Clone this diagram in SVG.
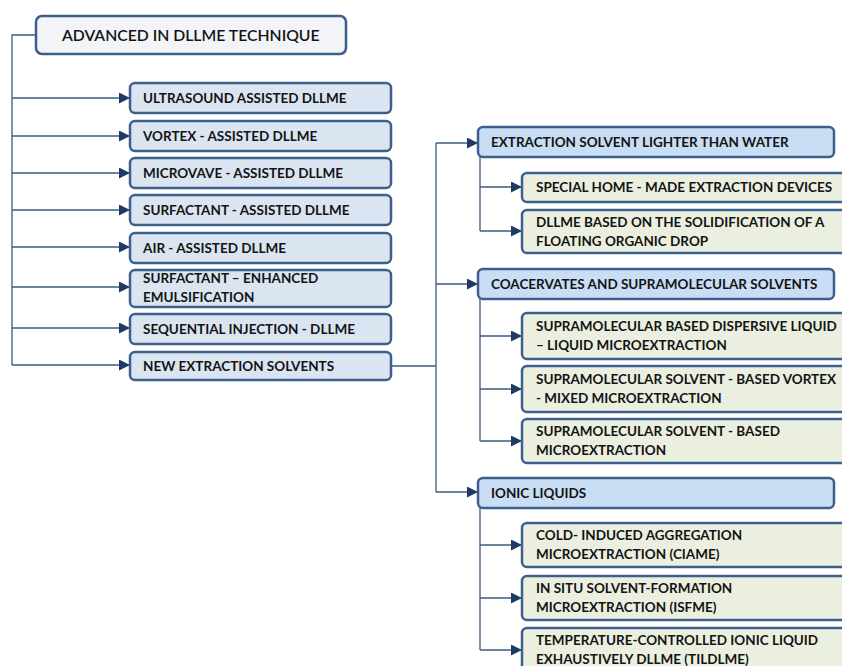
<svg xmlns="http://www.w3.org/2000/svg" width="842" height="666" viewBox="0 0 842 666">
<style>
.box{stroke:#3d5f8c;stroke-width:2.5}
.root{fill:#f2f4f8}
.l1{fill:#dbe5f1}
.l2{fill:#c9ddf4}
.l3{fill:#ebefe0}
text{font-family:Lato,"Open Sans","Liberation Sans",sans-serif;font-weight:bold;font-size:13.5px;fill:#141414}
.rt{font-size:15.75px;font-weight:600}
.c{fill:none;stroke:#3d5a80;stroke-width:1.3}
</style>
<defs>
<marker id="ah" markerWidth="11" markerHeight="11" refX="11" refY="5.5" orient="auto" markerUnits="userSpaceOnUse">
<path d="M0,0 L11,5.5 L0,11 z" fill="#1f3a64"/>
</marker>
</defs>
<rect width="842" height="666" fill="#ffffff"/>
<g id="connectors">
<path class="c" d="M36,35 H12 V365"/>
<path class="c" d="M12,98 H130" marker-end="url(#ah)"/>
<path class="c" d="M12,136 H130" marker-end="url(#ah)"/>
<path class="c" d="M12,173 H130" marker-end="url(#ah)"/>
<path class="c" d="M12,210 H130" marker-end="url(#ah)"/>
<path class="c" d="M12,247 H130" marker-end="url(#ah)"/>
<path class="c" d="M12,287 H130" marker-end="url(#ah)"/>
<path class="c" d="M12,328 H130" marker-end="url(#ah)"/>
<path class="c" d="M12,365 H130" marker-end="url(#ah)"/>
<path class="c" d="M391,366 H436 M436,143 V492"/>
<path class="c" d="M436,143 H478" marker-end="url(#ah)"/>
<path class="c" d="M436,284 H478" marker-end="url(#ah)"/>
<path class="c" d="M436,492 H478" marker-end="url(#ah)"/>
<path class="c" d="M480,157 V231"/>
<path class="c" d="M480,187 H522" marker-end="url(#ah)"/>
<path class="c" d="M480,231 H522" marker-end="url(#ah)"/>
<path class="c" d="M480,299 V441"/>
<path class="c" d="M480,336 H522" marker-end="url(#ah)"/>
<path class="c" d="M480,389 H522" marker-end="url(#ah)"/>
<path class="c" d="M480,441 H522" marker-end="url(#ah)"/>
<path class="c" d="M480,508 V650"/>
<path class="c" d="M480,545 H522" marker-end="url(#ah)"/>
<path class="c" d="M480,598 H522" marker-end="url(#ah)"/>
<path class="c" d="M480,650 H522" marker-end="url(#ah)"/>
</g>
<g id="root"><rect class="box root" x="36" y="16" width="310" height="38" rx="6"/><text class="rt" x="62" y="41">ADVANCED IN DLLME TECHNIQUE</text></g>
<g id="ultrasound"><rect class="box l1" x="130" y="83" width="261" height="30" rx="5"/><text x="143" y="103">ULTRASOUND ASSISTED DLLME</text></g>
<g id="vortex"><rect class="box l1" x="130" y="121" width="261" height="30" rx="5"/><text x="143" y="141">VORTEX - ASSISTED DLLME</text></g>
<g id="microvave"><rect class="box l1" x="130" y="158" width="261" height="30" rx="5"/><text x="143" y="178">MICROVAVE - ASSISTED DLLME</text></g>
<g id="surfactant-assisted"><rect class="box l1" x="130" y="195" width="261" height="30" rx="5"/><text x="143" y="215">SURFACTANT - ASSISTED DLLME</text></g>
<g id="air"><rect class="box l1" x="130" y="233" width="261" height="30" rx="5"/><text x="143" y="253">AIR - ASSISTED DLLME</text></g>
<g id="surfactant-enhanced"><rect class="box l1" x="130" y="270" width="261" height="37" rx="5"/><text x="143" y="283">SURFACTANT – ENHANCED</text><text x="143" y="302">EMULSIFICATION</text></g>
<g id="sequential"><rect class="box l1" x="130" y="314" width="261" height="30" rx="5"/><text x="143" y="334">SEQUENTIAL INJECTION - DLLME</text></g>
<g id="new-solvents"><rect class="box l1" x="130" y="352" width="261" height="28" rx="5"/><text x="143" y="371">NEW EXTRACTION SOLVENTS</text></g>
<g id="lighter"><rect class="box l2" x="478" y="127" width="356" height="30" rx="5"/><text x="491" y="147">EXTRACTION SOLVENT LIGHTER THAN WATER</text></g>
<g id="home-made"><rect class="box l3" x="522" y="173" width="330" height="29" rx="5"/><text x="536" y="192">SPECIAL HOME - MADE EXTRACTION DEVICES</text></g>
<g id="sfod"><rect class="box l3" x="522" y="210" width="330" height="43" rx="5"/><text x="536" y="227">DLLME BASED ON THE SOLIDIFICATION OF A</text><text x="536" y="246">FLOATING ORGANIC DROP</text></g>
<g id="coacervates"><rect class="box l2" x="478" y="269" width="356" height="30" rx="5"/><text x="491" y="289">COACERVATES AND SUPRAMOLECULAR SOLVENTS</text></g>
<g id="supra-dllme"><rect class="box l3" x="522" y="313" width="330" height="46" rx="5"/><text x="536" y="331">SUPRAMOLECULAR BASED DISPERSIVE LIQUID</text><text x="536" y="350">– LIQUID MICROEXTRACTION</text></g>
<g id="supra-vortex"><rect class="box l3" x="522" y="366" width="330" height="46" rx="5"/><text x="536" y="384">SUPRAMOLECULAR SOLVENT - BASED VORTEX</text><text x="536" y="403">- MIXED MICROEXTRACTION</text></g>
<g id="supra-micro"><rect class="box l3" x="522" y="419" width="330" height="44" rx="5"/><text x="536" y="436">SUPRAMOLECULAR SOLVENT - BASED</text><text x="536" y="455">MICROEXTRACTION</text></g>
<g id="ionic"><rect class="box l2" x="478" y="478" width="356" height="30" rx="5"/><text x="491" y="498">IONIC LIQUIDS</text></g>
<g id="ciame"><rect class="box l3" x="522" y="523" width="330" height="44" rx="5"/><text x="536" y="540">COLD- INDUCED AGGREGATION</text><text x="536" y="559">MICROEXTRACTION (CIAME)</text></g>
<g id="isfme"><rect class="box l3" x="522" y="576" width="330" height="44" rx="5"/><text x="536" y="593">IN SITU SOLVENT-FORMATION</text><text x="536" y="612">MICROEXTRACTION (ISFME)</text></g>
<g id="tildlme"><rect class="box l3" x="522" y="628" width="330" height="50" rx="5"/><text x="536" y="645">TEMPERATURE-CONTROLLED IONIC LIQUID</text><text x="536" y="664">EXHAUSTIVELY DLLME (TILDLME)</text></g>
</svg>
